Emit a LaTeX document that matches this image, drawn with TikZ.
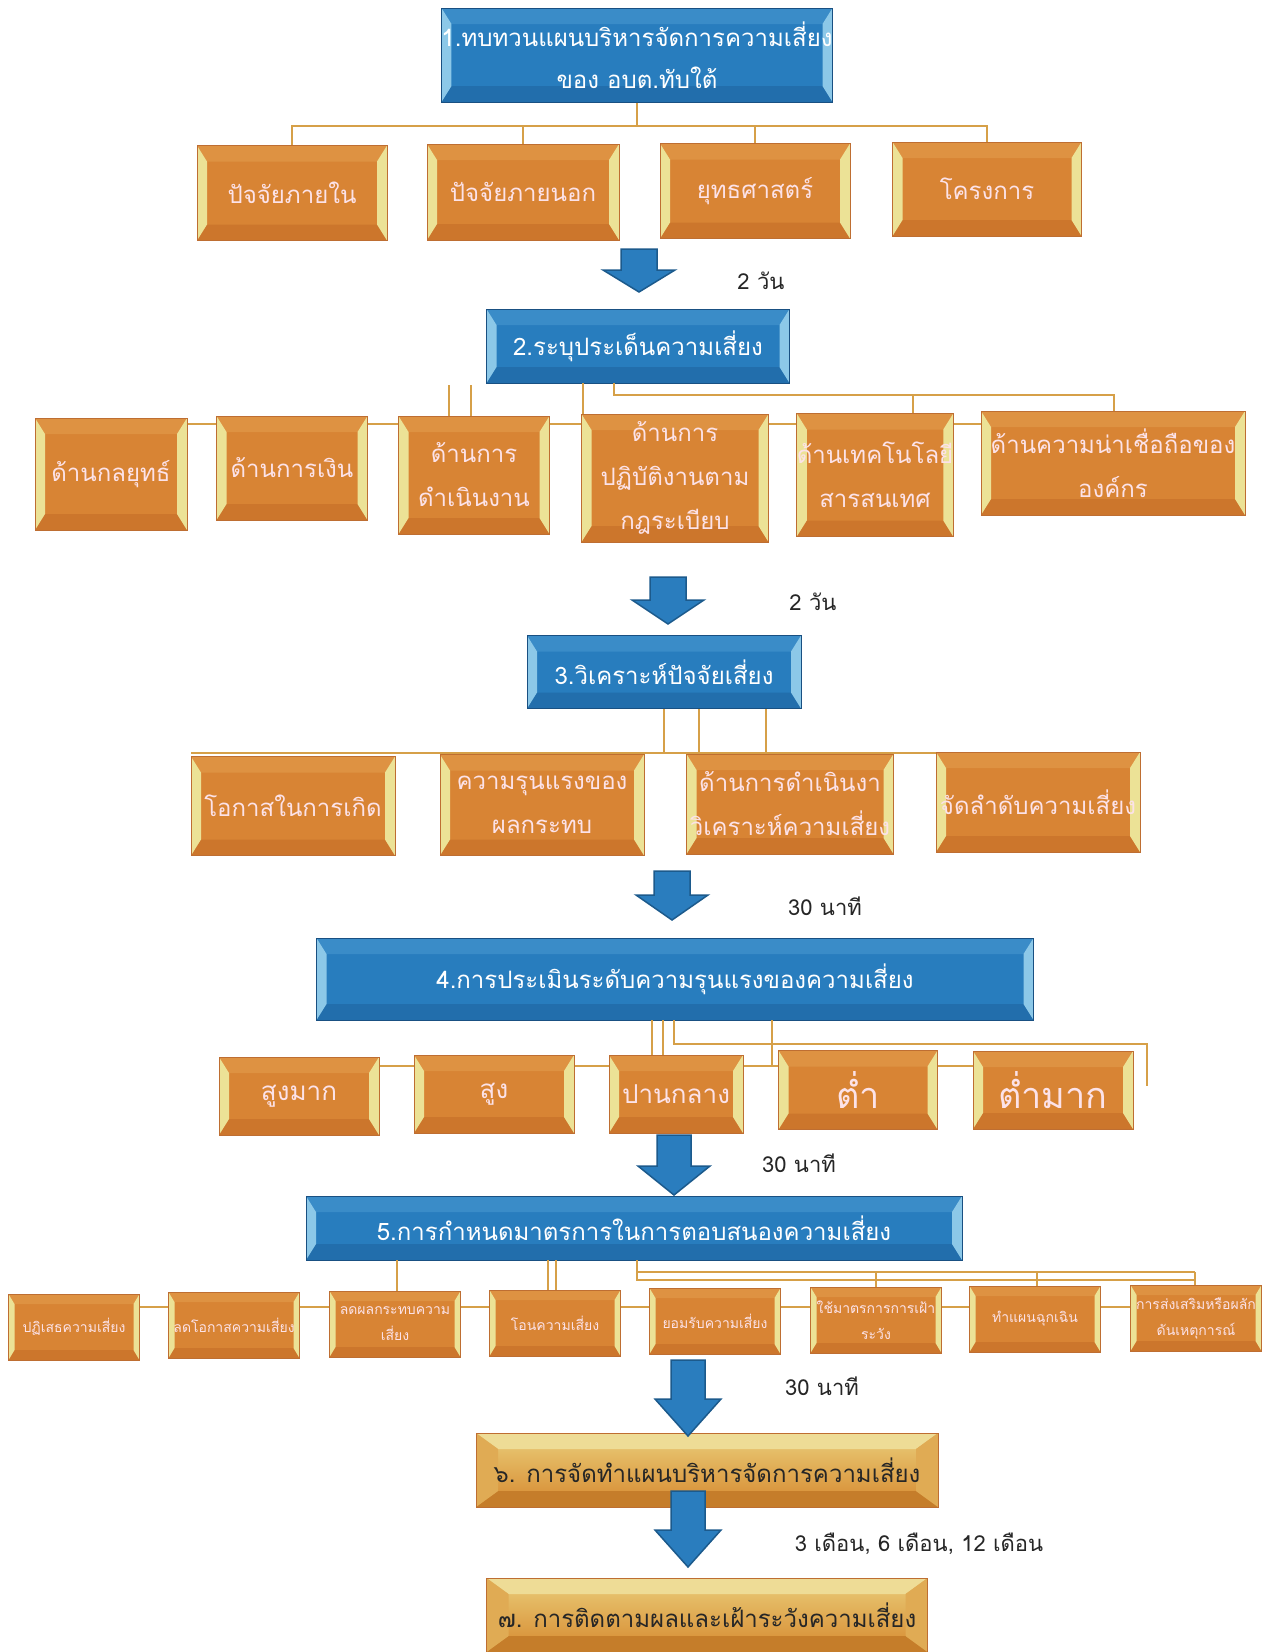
\documentclass[tikz,border=0pt]{standalone}
\usepackage{fontspec}
\newfontfamily\thai[Script=Thai]{Loma}
\definecolor{ofill}{RGB}{216,132,52}
\definecolor{otop}{RGB}{222,146,66}
\definecolor{obot}{RGB}{204,118,44}
\definecolor{oside}{RGB}{236,226,150}
\definecolor{obord}{RGB}{190,110,50}
\definecolor{otext}{RGB}{252,226,232}
\definecolor{bfill}{RGB}{40,125,190}
\definecolor{btop}{RGB}{58,140,200}
\definecolor{bbot}{RGB}{34,110,172}
\definecolor{bside}{RGB}{140,200,232}
\definecolor{bbord}{RGB}{25,80,130}
\definecolor{gtop}{RGB}{234,206,122}
\definecolor{gbot}{RGB}{214,136,46}
\definecolor{gbev}{RGB}{238,220,150}
\definecolor{conn}{RGB}{214,160,72}
\definecolor{arrfill}{RGB}{42,125,190}
\definecolor{arrbord}{RGB}{28,90,140}
\newcommand\mybevel[5]{%
  \coordinate (pNW) at (path picture bounding box.north west);
  \coordinate (pNE) at (path picture bounding box.north east);
  \coordinate (pSW) at (path picture bounding box.south west);
  \coordinate (pSE) at (path picture bounding box.south east);
  \fill[#2] (pNW) -- (pNE) -- ([xshift=-#4pt,yshift=-#5pt]pNE) -- ([xshift=#4pt,yshift=-#5pt]pNW) -- cycle;
  \fill[#3] (pSW) -- (pSE) -- ([xshift=-#4pt,yshift=#5pt]pSE) -- ([xshift=#4pt,yshift=#5pt]pSW) -- cycle;
  \fill[#1] (pNW) -- ([xshift=#4pt,yshift=-#5pt]pNW) -- ([xshift=#4pt,yshift=#5pt]pSW) -- (pSW) -- cycle;
  \fill[#1] (pNE) -- ([xshift=-#4pt,yshift=-#5pt]pNE) -- ([xshift=-#4pt,yshift=#5pt]pSE) -- (pSE) -- cycle;
}
\newcommand\blockarrow[6]{%
  \draw[arrstyle] ({#1-#5},#2) -- ({#1+#5},#2) -- ({#1+#5},#3) -- ({#1+#6},#3) -- (#1,#4) -- ({#1-#6},#3) -- ({#1-#5},#3) -- cycle;
}
\tikzset{
  obox/.style={draw=obord, line width=0.8pt, fill=ofill, text=otext, align=center, inner sep=0pt,
    font=\thai\fontsize{24}{44}\selectfont,
    path picture={\mybevel{oside}{otop}{obot}{10}{16}}},
  bbox/.style={draw=bbord, line width=1pt, fill=bfill, text=white, align=center, inner sep=0pt,
    font=\thai\fontsize{24}{42}\selectfont,
    path picture={\mybevel{bside}{btop}{bbot}{10}{16}}},
  gbox/.style={draw=obord, line width=0.8pt, top color=gtop, bottom color=gbot, text=black!85, align=center, inner sep=0pt,
    font=\thai\fontsize{24}{42}\selectfont,
    path picture={\mybevel{gtop!50!gbot}{gbev}{gbot!92!black}{22}{16}}},
  sbox/.style={obox, font=\thai\fontsize{14}{26}\selectfont, path picture={\mybevel{oside}{otop}{obot}{6}{10}}},
  lbl/.style={font=\thai\fontsize{22}{26}\selectfont, text=black!85, inner sep=0pt},
  cline/.style={draw=conn, line width=2pt},
  arrstyle/.style={fill=arrfill, draw=arrbord, line width=1.5pt, line join=miter},
}
\begin{document}
\begin{tikzpicture}[x=1pt,y=-1pt]
\useasboundingbox[fill=white] (0,0) rectangle (1269,1652);

% ---------- coordinates for connector bars ----------
\coordinate (bar1) at (637,126);
\coordinate (bar2) at (614,395);
\coordinate (bar4) at (674,1044);
\coordinate (bar5a) at (637,1272);
\coordinate (bar5b) at (637,1280);
\coordinate (s1) at (449,385);
\coordinate (s2) at (471,385);
\coordinate (r4) at (1147,1086);

% ---------- nodes ----------
\node[bbox, minimum width=375, minimum height=94] (b1) at (637,55) {1.ทบทวนแผนบริหารจัดการความเสี่ยง\\ของ อบต.ทับใต้};
\node[obox, minimum width=190, minimum height=95] (b11) at (292,193) {ปัจจัยภายใน};
\node[obox, minimum width=192, minimum height=96] (b12) at (523,192) {ปัจจัยภายนอก};
\node[obox, minimum width=190, minimum height=95] (b13) at (755,191) {ยุทธศาสตร์};
\node[obox, minimum width=189, minimum height=94] (b14) at (987,189) {โครงการ};

\node[bbox, minimum width=303, minimum height=74] (b2) at (638,346) {2.ระบุประเด็นความเสี่ยง};

% connectors row 2 (behind)
\draw[cline] (111,424) -- (1113,424);
\draw[cline] (s1) -- (449,416);
\draw[cline] (s2) -- (471,416);
\draw[cline] (583,383) -- (583,414);
\draw[cline] (614,383) -- (bar2) -- (1114,395) -- (1114,411);
\draw[cline] (913,395) -- (913,413);

\node[obox, minimum width=152, minimum height=112] (b21) at (111,474) {ด้านกลยุทธ์};
\node[obox, minimum width=151, minimum height=104] (b22) at (292,468) {ด้านการเงิน};
\node[obox, minimum width=151, minimum height=118] (b23) at (474,475) {ด้านการ\\ดำเนินงาน};
\node[obox, minimum width=187, minimum height=128] (b24) at (675,478) {ด้านการ\\ปฏิบัติงานตาม\\กฎระเบียบ};
\node[obox, minimum width=150, minimum height=123] (b25) at (875,475) {ด้านเทคโนโลยี\\สารสนเทศ};
\node[obox, minimum width=264, minimum height=104] (b26) at (1113,463) {ด้านความน่าเชื่อถือของ\\องค์กร};

\node[bbox, minimum width=274, minimum height=73] (b3) at (664,672) {3.วิเคราะห์ปัจจัยเสี่ยง};

% connectors row 3
\draw[cline] (664,709) -- (664,753);
\draw[cline] (699,709) -- (699,753);
\draw[cline] (766,709) -- (766,753);
\draw[cline] (191,753) -- (1140,753);

\node[obox, minimum width=204, minimum height=99] (b31) at (293,806) {โอกาสในการเกิด};
\node[obox, minimum width=204, minimum height=101] (b32) at (542,805) {ความรุนแรงของ\\ผลกระทบ};
\node[obox, minimum width=207, minimum height=100] (b33) at (790,804) {ด้านการดำเนินงา\\วิเคราะห์ความเสี่ยง};
\node[obox, minimum width=204, minimum height=100] (b34) at (1038,802) {จัดลำดับความเสี่ยง};

\node[bbox, minimum width=717, minimum height=82] (b4) at (675,979) {4.การประเมินระดับความรุนแรงของความเสี่ยง};

% connectors row 4
\draw[cline] (299,1066) -- (1053,1066);
\draw[cline] (652,1020) -- (652,1055);
\draw[cline] (663,1020) -- (663,1055);
\draw[cline] (674,1020) -- (bar4) -- (1147,1044) -- (r4);
\draw[cline] (772,1020) -- (772,1066);

\node[obox, minimum width=160, minimum height=78, font=\thai\fontsize{26}{30}\selectfont] (b41) at (299,1096) {สูงมาก};
\node[obox, minimum width=160, minimum height=78, font=\thai\fontsize{26}{30}\selectfont] (b42) at (494,1094) {สูง};
\node[obox, minimum width=134, minimum height=78, font=\thai\fontsize{26}{30}\selectfont] (b43) at (676,1094) {ปานกลาง};
\node[obox, minimum width=159, minimum height=79, font=\thai\fontsize{36}{40}\selectfont] (b44) at (858,1090) {ต่ำ};
\node[obox, minimum width=160, minimum height=78, font=\thai\fontsize{36}{40}\selectfont] (b45) at (1053,1090) {ต่ำมาก};

\node[bbox, minimum width=656, minimum height=64] (b5) at (634,1228) {5.การกำหนดมาตรการในการตอบสนองความเสี่ยง};

% connectors row 5
\draw[cline] (74,1307) -- (1196,1307);
\draw[cline] (397,1260) -- (397,1291);
\draw[cline] (548,1260) -- (548,1290);
\draw[cline] (556,1260) -- (556,1290);
\draw[cline] (bar5a) -- (1195,1272);
\draw[cline] (637,1260) -- (bar5b) -- (1195,1280);
\draw[cline] (876,1272) -- (876,1288);
\draw[cline] (1037,1272) -- (1037,1287);
\draw[cline] (1195,1272) -- (1195,1286);

\node[sbox, minimum width=131, minimum height=66] (b51) at (74,1327) {ปฏิเสธความเสี่ยง};
\node[sbox, minimum width=131, minimum height=66] (b52) at (234,1325) {ลดโอกาสความเสี่ยง};
\node[sbox, minimum width=131, minimum height=66] (b53) at (395,1324) {ลดผลกระทบความ\\เสี่ยง};
\node[sbox, minimum width=131, minimum height=66] (b54) at (555,1323) {โอนความเสี่ยง};
\node[sbox, minimum width=131, minimum height=66] (b55) at (715,1321) {ยอมรับความเสี่ยง};
\node[sbox, minimum width=131, minimum height=66] (b56) at (876,1320) {ใช้มาตรการการเฝ้า\\ระวัง};
\node[sbox, minimum width=131, minimum height=66] (b57) at (1035,1319) {ทำแผนฉุกเฉิน};
\node[sbox, minimum width=131, minimum height=66] (b58) at (1196,1318) {การส่งเสริมหรือผลัก\\ดันเหตุการณ์};

\node[gbox, minimum width=462, minimum height=74] (b6) at (707,1470) {๖. การจัดทำแผนบริหารจัดการความเสี่ยง};
\node[gbox, minimum width=441, minimum height=74] (b7) at (707,1615) {๗. การติดตามผลและเฝ้าระวังความเสี่ยง};

% connectors row 1
\draw[cline] (b1.south) -- (bar1);
\draw[cline] (b11.north) -- (b11.north |- bar1) -- (b14.north |- bar1) -- (b14.north);
\draw[cline] (b12.north) -- (b12.north |- bar1);
\draw[cline] (b13.north) -- (b13.north |- bar1);

% ---------- block arrows ----------
\blockarrow{639}{249}{270}{292}{18}{36}
\blockarrow{668}{577}{600}{624}{18}{36}
\blockarrow{672}{871}{895}{920}{18}{36}
\blockarrow{674}{1135}{1166}{1195}{17}{36}
\blockarrow{688}{1360}{1399}{1436}{17}{33}
\blockarrow{688}{1491}{1530}{1567}{17}{33}

% ---------- labels ----------
\node[lbl] (l1) at (761,281) {2 วัน};
\node[lbl] (l2) at (813,602) {2 วัน};
\node[lbl] (l3) at (825,906) {30 นาที};
\node[lbl] (l4) at (799,1163) {30 นาที};
\node[lbl] (l5) at (822,1386) {30 นาที};
\node[lbl] (l6) at (919,1544) {3 เดือน, 6 เดือน, 12 เดือน};
\end{tikzpicture}
\end{document}
